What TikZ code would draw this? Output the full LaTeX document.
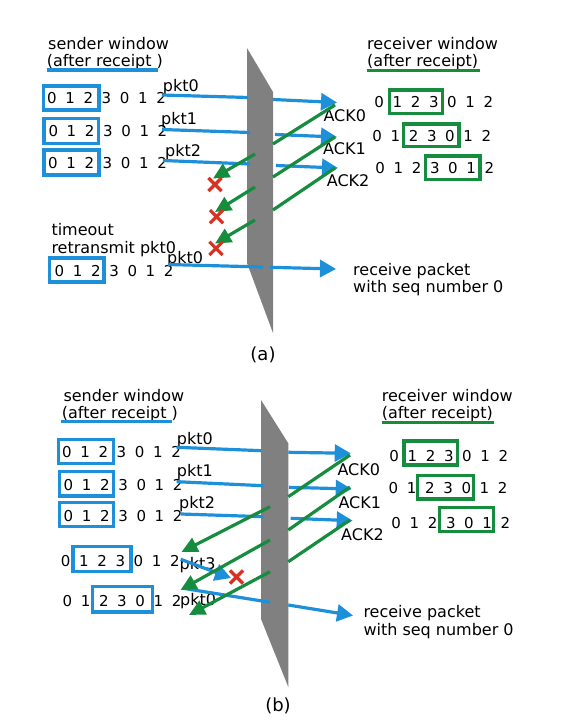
\documentclass[tikz,border=0pt]{standalone}
\usepackage{fontspec}
\setmainfont{DejaVu Sans}
\usetikzlibrary{arrows.meta,shapes.misc}
\definecolor{pblue}{RGB}{30,144,218}
\definecolor{pgreen}{RGB}{22,140,62}
\definecolor{pred}{RGB}{215,50,35}
\definecolor{pgray}{RGB}{128,128,128}
\newcommand\drow[1]{\drowi#1\relax}
\def\drowi#1{\ifx\relax#1\else\makebox[18.2pt]{#1}\expandafter\drowi\fi}
\begin{document}
\begin{tikzpicture}[x=1pt,y=-1pt,
  txt/.style={font=\fontsize{16}{19}\selectfont, inner sep=0pt, anchor=base west},
  figcap/.style={font=\fontsize{18}{21}\selectfont, inner sep=0pt},
  digs/.style={font=\fontsize{15}{18}\selectfont, inner sep=0pt, anchor=west},
  sbox/.style={draw=pblue, line width=3.2pt},
  rbox/.style={draw=pgreen, line width=3.2pt},
  pkt/.style={draw=pblue, line width=3.2pt},
  pkttip/.style={pkt, -{Triangle[length=16pt,width=17pt]}},
  ack/.style={draw=pgreen, line width=3.2pt},
  acktip/.style={ack, -{Triangle[length=16pt,width=15pt]}},
  lost/.style={draw=pred, line width=3.2pt, cross out, minimum size=10pt, inner sep=0pt},
  wall/.style={fill=pgray, draw=none},
  sul/.style={draw=pblue, line width=3.2pt},
  rul/.style={draw=pgreen, line width=3.2pt}]
\useasboundingbox (0,0) rectangle (571,720);

% ================= (a) =================
\fill[wall] (247,48) -- (273,92) -- (273,333) -- (247,263) -- cycle;

% texts
\node[txt] (asw1) at (48,49.5) {sender window};
\node[txt] (asw2) at (46.7,66) {(after receipt )};
\draw[sul] (46.5,70) -- (157.5,70);
\node[txt] (arw1) at (367,49.5) {receiver window};
\node[txt] (arw2) at (367,66) {(after receipt)};
\draw[rul] (367,70.7) -- (480,70.7);

% sender rows
\node[digs] (as1) at (42.6,98.3) {\drow{0123012}};
\draw[sbox] (43.3,86) rectangle (99,110);
\node[digs] (as2) at (44,130.8) {\drow{0123012}};
\draw[sbox] (44,118.3) rectangle (98.3,143.3);
\node[digs] (as3) at (43.6,162.8) {\drow{0123012}};
\draw[sbox] (44,150) rectangle (99,175);
\node[digs] (as4) at (50.2,271) {\drow{0123012}};
\draw[sbox] (49.6,258) rectangle (104,282);

% receiver rows
\node[digs] (ar1) at (369.9,101.7) {\drow{0123012}};
\draw[rbox] (389.3,90) rectangle (442.7,113.3);
\node[digs] (ar2) at (367.9,136) {\drow{0123012}};
\draw[rbox] (403.3,124) rectangle (459,146.7);
\node[digs] (ar3) at (370.9,168.3) {\drow{0123012}};
\draw[rbox] (425.7,156) rectangle (480,179.3);

% packet labels
\node[txt] (apk0) at (162.7,91.5) {pkt0};
\node[txt] (apk1) at (161,124.3) {pkt1};
\node[txt] (apk2) at (165,156) {pkt2};
\node[txt] (ato1) at (51.3,235) {timeout};
\node[txt] (ato2) at (51.3,253) {retransmit pkt0};
\node[txt] (apk3) at (167,263.5) {pkt0};
\node[txt] (aack0) at (323.3,121.7) {ACK0};
\node[txt] (aack1) at (323,154) {ACK1};
\node[txt] (aack2) at (326.7,186.7) {ACK2};
\node[txt] (arc1) at (353,275.4) {receive packet};
\node[txt] (arc2) at (353,292.6) {with seq number 0};
\node[figcap] (acap) at (263,354.6) {(a)};

% coordinates for blue packets
\coordinate (a0s) at (162,95);    \coordinate (a0l) at (248,97.5);
\coordinate (a0r) at (273,99.5);  \coordinate (a0t) at (337,102.5);
\coordinate (a1s) at (162,129.5); \coordinate (a1l) at (250,132.5);
\coordinate (a1r) at (275,134.5); \coordinate (a1t) at (337,137);
\coordinate (a2s) at (163,160.5); \coordinate (a2l) at (250,164);
\coordinate (a2r) at (276,165.5); \coordinate (a2t) at (338,168);
\coordinate (a3s) at (168,264.5); \coordinate (a3l) at (263,267);
\coordinate (a3r) at (270,267.3); \coordinate (a3t) at (336,269);
\draw[pkt] (a0s) -- (a0l); \draw[pkttip] (a0r) -- (a0t);
\draw[pkt] (a1s) -- (a1l); \draw[pkttip] (a1r) -- (a1t);
\draw[pkt] (a2s) -- (a2l); \draw[pkttip] (a2r) -- (a2t);
\draw[pkt] (a3s) -- (a3l); \draw[pkttip] (a3r) -- (a3t);

% green acks
\coordinate (g0s) at (335,105);   \coordinate (g0r) at (273,144);
\coordinate (g0l) at (255,154);   \coordinate (g0t) at (213,178.5);
\coordinate (g1s) at (335,137);   \coordinate (g1r) at (273,177);
\coordinate (g1l) at (255,187);   \coordinate (g1t) at (215,212);
\coordinate (g2s) at (335,168);   \coordinate (g2r) at (273,210);
\coordinate (g2l) at (255,220);   \coordinate (g2t) at (215,243.5);
\draw[ack] (g0s) -- (g0r); \draw[acktip] (g0l) -- (g0t);
\draw[ack] (g1s) -- (g1r); \draw[acktip] (g1l) -- (g1t);
\draw[ack] (g2s) -- (g2r); \draw[acktip] (g2l) -- (g2t);

\node[lost] (ax1) at (215,184.5) {};
\node[lost] (ax2) at (216.5,216.7) {};
\node[lost] (ax3) at (216,248.3) {};

% ================= (b) =================
\fill[wall] (261,400) -- (288.3,443.3) -- (288.3,687) -- (261,619) -- cycle;

\node[txt] (bsw1) at (63.3,401.7) {sender window};
\node[txt] (bsw2) at (61.7,418.3) {(after receipt )};
\draw[sul] (60.7,421.7) -- (171.7,421.7);
\node[txt] (brw1) at (381.7,401.7) {receiver window};
\node[txt] (brw2) at (381.7,418.3) {(after receipt)};
\draw[rul] (381.7,422.3) -- (494,422.3);

% sender rows
\node[digs] (bs1) at (57.6,451.7) {\drow{0123012}};
\draw[sbox] (58.3,439.3) rectangle (113.3,463.3);
\node[digs] (bs2) at (59.2,485) {\drow{0123012}};
\draw[sbox] (59.3,471.7) rectangle (113.3,496);
\node[digs] (bs3) at (59.2,516) {\drow{0123012}};
\draw[sbox] (59.3,502.7) rectangle (113.3,526.7);
\node[digs] (bs4) at (56.4,561) {\drow{0123012}};
\draw[sbox] (73,546.5) rectangle (131,571.3);
\node[digs] (bs5) at (58.1,600.6) {\drow{0123012}};
\draw[sbox] (92.7,586.8) rectangle (152.2,612);

% receiver rows
\node[digs] (br1) at (384.9,456) {\drow{0123012}};
\draw[rbox] (404,441) rectangle (457.7,465);
\node[digs] (br2) at (384.2,488.3) {\drow{0123012}};
\draw[rbox] (417.7,475.7) rectangle (473.3,499);
\node[digs] (br3) at (386.9,522.7) {\drow{0123012}};
\draw[rbox] (439.3,507.7) rectangle (493.3,531.7);

% labels
\node[txt] (bpk0) at (176.7,444) {pkt0};
\node[txt] (bpk1) at (176.7,476.7) {pkt1};
\node[txt] (bpk2) at (179,508.3) {pkt2};
\node[txt] (bpk3) at (179.5,569.5) {pkt3};
\node[txt] (bpk4) at (180,605) {pkt0};
\node[txt] (back0) at (337.3,475) {ACK0};
\node[txt] (back1) at (338.3,508.3) {ACK1};
\node[txt] (back2) at (341,540) {ACK2};
\node[txt] (brc1) at (363.3,617) {receive packet};
\node[txt] (brc2) at (363.3,635) {with seq number 0};
\node[figcap] (bcap) at (278,705.6) {(b)};

% blue packets
\coordinate (b0s) at (176.7,447.3); \coordinate (b0l) at (261.7,450.7);
\coordinate (b0r) at (288.3,452.3); \coordinate (b0t) at (350.7,453.3);
\coordinate (b1s) at (176.7,481.7); \coordinate (b1l) at (263.3,485.7);
\coordinate (b1r) at (289,487.3);   \coordinate (b1t) at (351.7,489);
\coordinate (b2s) at (180.7,514);   \coordinate (b2l) at (263.3,516.7);
\coordinate (b2r) at (290.7,518.3); \coordinate (b2t) at (352.7,520.7);
\coordinate (b3s) at (180.7,559.3); \coordinate (b3t) at (231,578);
\coordinate (b4s) at (183.3,588.3); \coordinate (b4l) at (270,602.3);
\coordinate (b4r) at (288.3,605);   \coordinate (b4t) at (353,615.5);
\draw[pkt] (b0s) -- (b0l); \draw[pkttip] (b0r) -- (b0t);
\draw[pkt] (b1s) -- (b1l); \draw[pkttip] (b1r) -- (b1t);
\draw[pkt] (b2s) -- (b2l); \draw[pkttip] (b2r) -- (b2t);
\draw[pkttip] (b3s) -- (b3t);
\draw[pkt] (b4s) -- (b4l); \draw[pkttip] (b4r) -- (b4t);

% green acks
\coordinate (h0s) at (350,455);   \coordinate (h0r) at (288.3,496.7);
\coordinate (h0l) at (270,506.7); \coordinate (h0t) at (181.5,552);
\coordinate (h1s) at (350,487);   \coordinate (h1r) at (288.3,530);
\coordinate (h1l) at (270,540);   \coordinate (h1t) at (180.5,590);
\coordinate (h2s) at (350,520);   \coordinate (h2r) at (288.3,561.7);
\coordinate (h2l) at (270,571.7); \coordinate (h2t) at (189,615);
\draw[ack] (h0s) -- (h0r); \draw[acktip] (h0l) -- (h0t);
\draw[ack] (h1s) -- (h1r); \draw[acktip] (h1l) -- (h1t);
\draw[ack] (h2s) -- (h2r); \draw[acktip] (h2l) -- (h2t);

\node[lost] (bx1) at (236.5,577) {};
\end{tikzpicture}
\end{document}
